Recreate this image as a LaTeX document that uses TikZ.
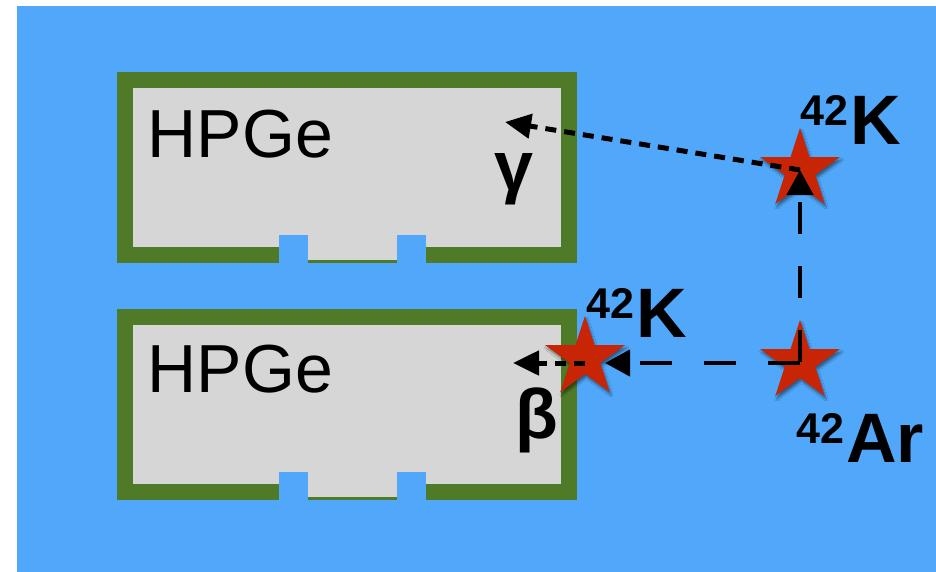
\documentclass[tikz,border=0pt]{standalone}
\usepackage{fontspec}
\setmainfont{Liberation Sans}
\usepackage{xcolor}
\definecolor{hpBlue}{RGB}{81,167,249}
\definecolor{hpGreen}{RGB}{79,122,40}
\definecolor{hpGrey}{RGB}{214,214,214}
\definecolor{hpRed}{RGB}{200,37,6}
\usepackage{tikz}
\usetikzlibrary{positioning,arrows.meta,calc,shapes.geometric,shadows.blur}
\newcommand{\hpiso}[2]{\raisebox{19pt}{\fontsize{43}{43}\selectfont #1}\hspace{2pt}#2}
\tikzset{
  hp-det/.style={draw=hpGreen,fill=hpGrey,line width=16pt,outer sep=0pt,
    minimum width=444.5pt,minimum height=175pt,inner sep=0pt},
  hp-star/.style={star,star points=5,star point ratio=2.618,fill=hpRed,
    minimum size=84pt,inner sep=0pt,
    blur shadow={shadow xshift=1.5pt,shadow yshift=-3pt,shadow blur steps=6,shadow opacity=45}},
  hp-name/.style={font=\fontsize{68}{70}\selectfont,inner sep=0pt},
  hp-iso/.style={font=\bfseries\fontsize{70}{72}\selectfont,inner sep=0pt},
  hp-decay/.style={-{Triangle[length=25pt,width=26pt]},line width=4.5pt,
    dash pattern=on 32pt off 32pt},
  hp-ray/.style={-{Triangle[length=26pt,width=24pt]},line width=5pt,
    dash pattern=on 11pt off 8pt},
}
\begin{document}
\begin{tikzpicture}[x=1pt,y=-1pt]
  \useasboundingbox (0,0) rectangle (936,572);
  \fill[hpBlue] (17,6) rectangle (936,572);

  % detectors
  \node[hp-det] (det1) at (346.75,167.75) {};
  \node[hp-det] (det2) at (346.75,404) {};
  \fill[hpGrey] ($(det1.south)+(-39,-8)$) rectangle ++(89,13);
  \fill[hpBlue] ($(det1.south)+(-68,-20)$) rectangle ++(29,28);
  \fill[hpBlue] ($(det1.south)+(50,-20)$) rectangle ++(29,28);
  \fill[hpGrey] ($(det2.south)+(-39,-8)$) rectangle ++(89,13);
  \fill[hpBlue] ($(det2.south)+(-68,-20)$) rectangle ++(29,28);
  \fill[hpBlue] ($(det2.south)+(50,-20)$) rectangle ++(29,28);
  \node[hp-name,anchor=base west] (name1) at ($(det1.north west)+(23,77)$) {HPGe};
  \node[hp-name,anchor=base west] (name2) at ($(det2.north west)+(23,76)$) {HPGe};

  % decays
  \node[hp-star] (ktop) at (800,170) {};
  \node[hp-star] (klow) at (585,358) {};
  \node[hp-star] (ar) at (800,362) {};
  \node[hp-iso,anchor=base west] (ktoplbl) at ([yshift=25pt]ktop.center) {\hpiso{42}{K}};
  \node[hp-iso,anchor=base west] (klowlbl) at ([xshift=1pt,yshift=21pt]klow.center) {\hpiso{42}{K}};
  \node[hp-iso,anchor=base west] (arlbl) at ([xshift=-4pt,yshift=-100pt]ar.center) {\hpiso{42}{Ar}};
  \node[hp-iso,anchor=base] (gam) at ([xshift=-55pt,yshift=-23pt]det1.east) {γ};
  \node[hp-iso,anchor=base] (bet) at ([xshift=-32pt,yshift=-34pt]det2.east) {β};
  \coordinate (gtip) at (505,122);
  \coordinate (btip) at (513,363);

  % edges
  \draw[hp-decay] (ar.center) -- (ktop.center);
  \draw[hp-decay,shorten >=20pt] ([yshift=-1pt]ar.center) -- ([yshift=-1pt]ar.center -| klow.center);
  \draw[hp-ray] (ktop.center) -- (gtip);
  \draw[hp-ray] (btip -| klow.center) -- (btip);
\end{tikzpicture}
\end{document}
